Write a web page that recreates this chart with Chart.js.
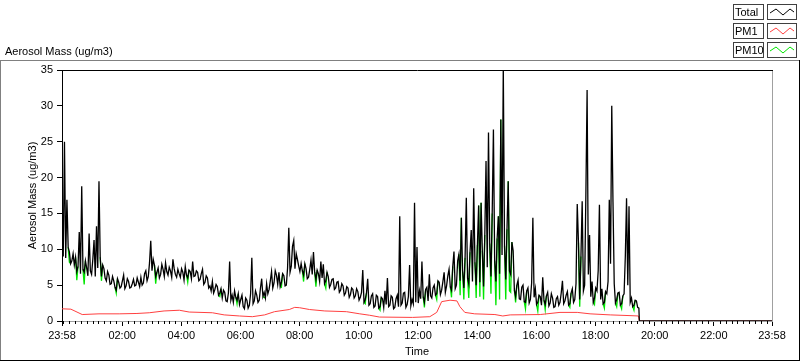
<!DOCTYPE html>
<html>
<head>
<meta charset="utf-8">
<script src="https://cdn.jsdelivr.net/npm/chart.js@4.4.1/dist/chart.umd.min.js"></script>
<style>
  html, body { margin: 0; padding: 0; background: #fff; overflow: hidden; }
  canvas { display: block; }
</style>
</head>
<body>
<canvas id="aerosolChart" width="800" height="361"></canvas>
<script>
// times are minutes from midnight, the record starts at 23:58 the day before
const totalStart = -2;
const totalStep = 2.5;

// one row per hour
const totalValues = [
  12.2, 9.0, 25.0, 8.8, 16.9, 10.3, 9.6, 8.0, 8.4, 9.4, 7.8, 8.9, 6.9, 7.6, 12.4, 6.6, 18.8, 7.2, 6.8, 8.4, 7.4, 6.3, 12.2, 7.0,
  6.5, 8.6, 11.3, 6.2, 13.2, 7.4, 19.5, 8.9, 6.2, 7.8, 7.3, 6.0, 5.6, 6.9, 6.4, 5.1, 5.2, 6.2, 5.6, 4.7, 4.3, 5.9, 5.4, 4.6,
  4.8, 5.6, 6.4, 4.5, 4.9, 5.9, 5.5, 4.6, 4.7, 5.2, 5.8, 4.9, 5.0, 6.0, 5.4, 4.8, 6.1, 5.0, 5.3, 6.6, 7.0, 5.6, 6.2, 8.1,
  11.2, 7.0, 8.6, 7.8, 6.2, 6.8, 7.4, 6.0, 6.5, 7.9, 7.2, 6.2, 8.1, 6.9, 6.4, 7.5, 7.0, 6.1, 8.6, 7.3, 6.5, 6.1, 7.2, 6.6,
  6.1, 7.3, 6.8, 5.7, 7.6, 6.4, 6.0, 7.1, 6.9, 5.9, 8.3, 6.2, 6.3, 7.0, 6.8, 5.6, 5.8, 6.6, 7.2, 5.1, 5.4, 6.3, 6.0, 4.6,
  4.9, 4.2, 5.5, 3.9, 4.4, 5.1, 4.8, 3.6, 3.9, 4.5, 3.2, 4.3, 4.0, 2.8, 2.7, 3.9, 8.3, 2.9, 3.6, 2.6, 4.2, 3.3, 2.9, 3.8,
  2.3, 3.0, 3.6, 2.0, 1.7, 3.2, 2.9, 1.8, 2.2, 3.8, 8.8, 2.4, 2.8, 4.2, 3.6, 2.6, 2.9, 4.6, 5.9, 3.4, 4.0, 3.2, 5.2, 3.8,
  4.4, 5.6, 6.9, 4.6, 5.3, 7.0, 6.4, 5.1, 6.8, 4.8, 5.4, 6.6, 6.3, 4.9, 5.0, 7.4, 13.0, 6.8, 7.6, 10.4, 11.2, 7.3, 9.4, 8.6,
  7.7, 6.9, 8.0, 7.0, 6.4, 8.0, 7.3, 5.9, 6.1, 7.2, 8.5, 6.5, 9.6, 6.8, 5.8, 7.1, 6.6, 5.5, 8.3, 6.0, 7.9, 5.2, 5.6, 6.8,
  6.2, 4.7, 5.1, 5.8, 5.9, 4.4, 4.6, 5.4, 5.5, 4.0, 4.3, 5.2, 4.9, 3.6, 3.9, 4.8, 4.6, 3.3, 3.7, 4.6, 4.4, 3.2, 3.5, 4.5,
  4.1, 2.9, 3.3, 4.0, 7.1, 2.6, 3.0, 3.9, 5.9, 2.2, 2.4, 3.5, 3.8, 1.9, 2.1, 3.6, 3.4, 1.8, 2.0, 3.3, 3.1, 1.9, 4.2, 2.3,
  6.0, 2.0, 2.2, 3.5, 3.3, 1.7, 1.9, 3.1, 3.6, 2.0, 14.6, 2.2, 2.5, 3.9, 4.0, 1.9, 2.3, 3.4, 7.8, 2.1, 3.0, 2.4, 16.5, 2.6,
  10.3, 2.5, 4.2, 3.1, 8.3, 3.4, 2.6, 4.4, 4.7, 2.8, 6.5, 3.5, 3.2, 4.6, 5.0, 3.6, 3.8, 5.6, 5.4, 3.7, 4.3, 5.5, 6.8, 4.0,
  4.9, 6.3, 7.2, 4.8, 4.3, 7.6, 9.7, 4.5, 5.0, 8.4, 9.3, 5.6, 14.4, 6.9, 4.6, 8.8, 17.2, 6.0, 5.2, 9.6, 12.7, 5.5, 18.5, 8.2,
  5.0, 10.6, 16.1, 5.4, 16.5, 9.8, 4.8, 12.0, 22.3, 7.5, 26.3, 10.8, 6.2, 15.0, 26.7, 8.4, 5.5, 11.5, 14.6, 6.6, 28.1, 9.2, 35.5, 10.5,
  5.8, 12.8, 19.5, 7.0, 6.5, 11.0, 9.8, 4.3, 3.4, 5.0, 5.7, 3.1, 3.0, 4.7, 5.0, 2.7, 2.6, 4.2, 4.6, 2.5, 3.0, 5.3, 14.4, 3.3,
  4.5, 2.3, 2.6, 3.6, 3.4, 2.2, 6.1, 2.9, 2.3, 3.5, 4.0, 2.1, 2.5, 3.8, 3.2, 1.9, 2.0, 3.1, 3.4, 2.2, 2.6, 3.9, 5.6, 2.4,
  2.8, 3.6, 4.1, 2.2, 2.4, 3.9, 4.5, 2.6, 3.0, 5.2, 16.3, 10.9, 3.0, 9.0, 16.7, 4.2, 5.0, 17.6, 32.2, 6.5, 12.0, 3.4, 5.5, 2.6,
  3.2, 4.6, 4.2, 7.0, 16.2, 3.0, 4.5, 2.4, 2.6, 4.1, 3.8, 5.5, 16.9, 8.0, 30.0, 16.6, 5.2, 2.5, 3.0, 3.9, 4.0, 2.2, 2.4, 3.5,
  3.8, 9.0, 17.1, 5.0, 16.0, 2.6, 3.2, 2.0, 2.2, 2.9, 2.8, 1.9, 1.8
];

const pm10Values = [
  12.2, 9.0, 25.0, 8.8, 16.9, 10.3, 8.2, 8.0, 8.4, 9.4, 7.8, 8.9, 5.7, 7.6, 12.4, 6.6, 18.8, 7.2, 5.1, 8.4, 7.4, 6.3, 12.2, 7.0,
  6.5, 8.6, 11.3, 6.2, 13.2, 7.4, 19.5, 8.9, 5.6, 7.8, 7.3, 6.0, 5.6, 6.9, 6.4, 5.1, 5.2, 6.2, 5.6, 4.7, 3.9, 5.9, 5.4, 4.6,
  4.8, 5.6, 6.4, 4.5, 4.9, 5.9, 5.5, 4.6, 4.7, 5.2, 5.8, 4.9, 5.0, 6.0, 5.4, 4.8, 6.1, 5.0, 5.3, 6.6, 7.0, 5.6, 6.2, 8.1,
  11.2, 7.0, 8.6, 7.8, 5.2, 6.8, 7.4, 6.0, 6.5, 7.9, 7.2, 6.2, 8.1, 6.9, 6.4, 7.5, 7.0, 6.1, 8.6, 7.3, 6.5, 6.1, 7.2, 6.6,
  6.1, 7.3, 6.8, 5.7, 7.6, 6.4, 5.4, 7.1, 6.9, 5.9, 8.3, 6.2, 6.3, 7.0, 6.8, 5.6, 5.8, 6.6, 7.2, 5.1, 5.4, 6.3, 6.0, 4.6,
  4.9, 4.2, 5.5, 3.9, 4.4, 5.1, 4.8, 3.6, 3.4, 4.5, 3.2, 4.3, 4.0, 2.8, 2.7, 3.9, 8.3, 2.9, 3.6, 2.6, 4.2, 3.3, 2.4, 3.8,
  2.3, 3.0, 3.6, 2.0, 1.7, 3.2, 2.9, 1.8, 2.2, 3.8, 8.8, 2.4, 2.8, 4.2, 3.6, 2.6, 2.9, 4.6, 5.9, 3.4, 3.3, 3.2, 5.2, 3.8,
  4.4, 5.6, 6.9, 4.6, 5.3, 7.0, 6.4, 5.1, 6.8, 4.8, 4.7, 6.6, 6.3, 4.9, 5.0, 7.4, 13.0, 6.8, 7.6, 10.4, 11.2, 7.3, 9.4, 8.6,
  7.7, 6.9, 8.0, 7.0, 5.5, 8.0, 7.3, 5.9, 6.1, 7.2, 8.5, 6.5, 9.6, 6.8, 4.8, 7.1, 6.6, 5.5, 8.3, 6.0, 7.9, 5.2, 4.6, 6.8,
  6.2, 4.7, 5.1, 5.8, 5.9, 4.4, 4.6, 5.4, 5.5, 4.0, 4.3, 5.2, 4.9, 3.6, 3.9, 4.8, 4.6, 3.3, 3.7, 4.6, 4.4, 3.2, 3.5, 4.5,
  4.1, 2.9, 3.3, 4.0, 7.1, 2.6, 2.4, 3.9, 5.9, 2.2, 2.4, 3.5, 3.8, 1.9, 2.1, 3.6, 3.4, 1.8, 1.5, 3.3, 3.1, 1.9, 4.2, 2.3,
  6.0, 2.0, 2.2, 3.5, 3.3, 1.7, 1.9, 3.1, 3.6, 2.0, 14.6, 2.2, 2.5, 3.9, 4.0, 1.9, 2.3, 3.4, 7.8, 2.1, 3.0, 2.4, 16.5, 2.6,
  10.3, 2.5, 4.2, 3.1, 8.3, 3.4, 1.9, 4.4, 4.7, 2.8, 6.5, 3.5, 3.2, 4.6, 5.0, 3.6, 3.0, 5.6, 5.4, 3.7, 4.3, 5.5, 6.8, 4.0,
  4.9, 6.3, 7.2, 4.8, 3.3, 7.6, 9.7, 4.5, 5.0, 8.4, 9.3, 3.6, 14.4, 6.9, 3.0, 8.8, 17.2, 6.0, 3.2, 9.6, 12.7, 5.5, 18.5, 8.2,
  3.2, 10.6, 16.1, 3.4, 16.5, 9.8, 3.0, 12.0, 22.3, 7.5, 26.3, 10.8, 3.8, 15.0, 26.7, 8.4, 2.2, 11.5, 14.6, 3.0, 28.1, 9.2, 35.5, 10.5,
  3.0, 12.8, 19.5, 4.2, 4.0, 11.0, 9.8, 4.3, 2.6, 5.0, 5.7, 3.1, 3.0, 4.7, 5.0, 2.7, 1.7, 4.2, 4.6, 2.5, 3.0, 5.3, 14.4, 3.3,
  4.5, 2.3, 1.4, 3.6, 3.4, 2.2, 6.1, 2.9, 1.6, 3.5, 4.0, 2.1, 2.5, 3.8, 3.2, 1.9, 2.0, 3.1, 3.4, 2.2, 2.6, 3.9, 5.6, 2.4,
  2.8, 3.6, 4.1, 2.2, 1.9, 3.9, 4.5, 2.6, 3.0, 5.2, 16.3, 10.9, 2.0, 9.0, 16.7, 4.2, 5.0, 17.6, 32.2, 6.5, 12.0, 3.4, 5.5, 2.6,
  2.3, 4.6, 4.2, 7.0, 16.2, 3.0, 4.5, 2.4, 1.8, 4.1, 3.8, 5.5, 16.9, 8.0, 30.0, 16.6, 5.2, 2.5, 2.0, 3.9, 4.0, 2.2, 1.7, 3.5,
  3.8, 9.0, 17.1, 5.0, 16.0, 2.6, 3.2, 2.0, 1.5, 2.9, 2.8, 1.9, 1.8
];

const pm1Times = [-2, 16, 39, 73, 114, 150, 175, 205, 236, 256, 303, 327, 358, 384, 409, 429,
  459, 470, 480, 500, 531, 575, 602, 622, 642, 709, 744, 758, 768, 785, 799, 805, 815, 835,
  876, 892, 907, 968, 1008, 1043, 1069, 1110, 1150, 1167];
const pm1Values = [1.7, 1.65, 0.9, 1.0, 1.0, 1.05, 1.15, 1.4, 1.5, 1.25, 1.15, 0.85, 0.7, 0.6, 0.85, 1.3,
  1.6, 1.9, 1.85, 1.6, 1.4, 1.3, 1.0, 0.8, 0.55, 0.5, 0.6, 1.2, 2.7, 2.9, 2.8, 2.0, 1.2, 1.0,
  0.9, 0.7, 0.85, 0.9, 1.2, 1.2, 1.0, 0.85, 0.75, 0.7];

// logger stopped a little before 19:30, everything reads zero after that
const offTimes = [1169, 1438];
const offValues = [0, 0];

const xTickMinutes = [-2, 120, 240, 360, 480, 600, 720, 840, 960, 1080, 1200, 1320, 1438];
const xTickLabels = ['23:58', '02:00', '04:00', '06:00', '08:00', '10:00', '12:00',
  '14:00', '16:00', '18:00', '20:00', '22:00', '23:58'];

const font11 = { family: 'Liberation Sans', size: 11 };
const pm10Color = '#00e600';

function withOff(points) {
  offTimes.forEach((t, i) => points.push({ x: t, y: offValues[i] }));
  return points;
}

function sampled(values) {
  return withOff(values.map((v, i) => ({ x: totalStart + i * totalStep, y: v })));
}

// PM10 sits under Total; only show it where it leaves the Total trace
function pm10Segment(ctx) {
  const a = ctx.p0DataIndex, b = ctx.p1DataIndex;
  const hidden = pm10Values[a] === totalValues[a] && pm10Values[b] === totalValues[b];
  return hidden ? 'rgba(0,0,0,0)' : pm10Color;
}

const framePlugin = {
  id: 'frame',
  beforeDraw(chart) {
    const ctx = chart.ctx;
    ctx.save();
    ctx.fillStyle = '#ffffff';
    ctx.fillRect(0, 0, chart.width, chart.height);
    ctx.restore();
  },
  afterDraw(chart) {
    const ctx = chart.ctx;
    const area = chart.chartArea;
    const x = chart.scales.x;
    ctx.save();

    // minor ticks every 12 minutes
    ctx.strokeStyle = '#000';
    ctx.lineWidth = 1;
    ctx.beginPath();
    for (let t = 0; t <= 1438; t += 12) {
      if (t % 120 === 0 && t > 0) continue;
      const px = Math.round(x.getPixelForValue(t)) + 0.5;
      ctx.moveTo(px, area.bottom);
      ctx.lineTo(px, area.bottom + 3);
    }
    ctx.stroke();

    // plot box: dark top, light right
    ctx.beginPath();
    ctx.moveTo(area.left, area.top + 0.5);
    ctx.lineTo(area.right + 1, area.top + 0.5);
    ctx.stroke();
    ctx.strokeStyle = '#a0a0a0';
    ctx.beginPath();
    ctx.moveTo(area.right + 0.5, area.top + 1);
    ctx.lineTo(area.right + 0.5, area.bottom + 1);
    ctx.stroke();

    // panel frame
    ctx.strokeStyle = '#808080';
    ctx.beginPath();
    ctx.moveTo(0, 60.5);
    ctx.lineTo(800, 60.5);
    ctx.moveTo(0.5, 60);
    ctx.lineTo(0.5, 361);
    ctx.stroke();
    ctx.strokeStyle = '#000';
    ctx.beginPath();
    ctx.moveTo(799.5, 60);
    ctx.lineTo(799.5, 361);
    ctx.moveTo(0, 360.5);
    ctx.lineTo(800, 360.5);
    ctx.stroke();

    // graph caption
    ctx.fillStyle = '#000';
    ctx.font = '11px "Liberation Sans"';
    ctx.textBaseline = 'middle';
    ctx.textAlign = 'left';
    ctx.fillText('Aerosol Mass (ug/m3)', 5, 52);

    // plot legend
    chart.data.datasets.forEach((ds, i) => {
      const y = 4 + i * 19;
      const color = ds.legendColor || ds.borderColor;
      ctx.lineWidth = 1;
      ctx.fillStyle = '#fff';
      ctx.fillRect(733, y, 30, 15);
      ctx.fillRect(767, y, 29, 15);
      ctx.strokeStyle = '#404040';
      ctx.strokeRect(733.5, y + 0.5, 30, 15);
      ctx.strokeRect(767.5, y + 0.5, 29, 15);
      ctx.fillStyle = '#000';
      ctx.fillText(ds.label, 735, y + 8.5);
      ctx.strokeStyle = color;
      ctx.beginPath();
      ctx.moveTo(770, y + 9);
      ctx.lineTo(776, y + 5);
      ctx.lineTo(783, y + 11);
      ctx.lineTo(790, y + 5);
      ctx.lineTo(794, y + 8);
      ctx.stroke();
    });
    ctx.restore();
  }
};

new Chart(document.getElementById('aerosolChart'), {
  type: 'line',
  data: {
    datasets: [
      { label: 'Total', data: sampled(totalValues), borderColor: '#000000', borderWidth: 1.3 },
      { label: 'PM1', data: withOff(pm1Times.map((t, i) => ({ x: t, y: pm1Values[i] }))), borderColor: '#ff4040' },
      { label: 'PM10', data: sampled(pm10Values), borderColor: pm10Color, legendColor: pm10Color,
        borderWidth: 1.3, segment: { borderColor: pm10Segment } }
    ]
  },
  options: {
    responsive: false,
    animation: false,
    devicePixelRatio: 1,
    events: [],
    layout: { padding: { top: 70, right: 28, left: 0, bottom: 0 } },
    elements: {
      point: { radius: 0 },
      line: { borderWidth: 1, tension: 0, fill: false }
    },
    plugins: {
      legend: { display: false },
      tooltip: { enabled: false }
    },
    scales: {
      x: {
        type: 'linear',
        min: -2,
        max: 1438,
        afterBuildTicks: (scale) => {
          scale.ticks = xTickMinutes.map(v => ({ value: v }));
        },
        afterFit: (scale) => { scale.height = 40; },
        ticks: {
          autoSkip: false,
          maxRotation: 0,
          padding: 3,
          color: '#000',
          font: font11,
          callback: (value, index) => xTickLabels[index]
        },
        grid: { drawOnChartArea: false, tickLength: 5, tickColor: '#000' },
        border: { color: '#a0a0a0' },
        title: { display: true, text: 'Time', color: '#000', font: font11, padding: { top: 0, bottom: 2 } }
      },
      y: {
        min: 0,
        max: 35,
        afterFit: (scale) => { scale.width = 62; },
        ticks: { stepSize: 5, padding: 4, color: '#000', font: font11 },
        grid: { drawOnChartArea: false, tickLength: 5, tickColor: '#000' },
        border: { color: '#000' },
        title: { display: true, text: 'Aerosol Mass (ug/m3)', color: '#000', font: font11, padding: { top: 26, bottom: 0 } }
      }
    }
  },
  plugins: [framePlugin]
});
</script>
</body>
</html>
